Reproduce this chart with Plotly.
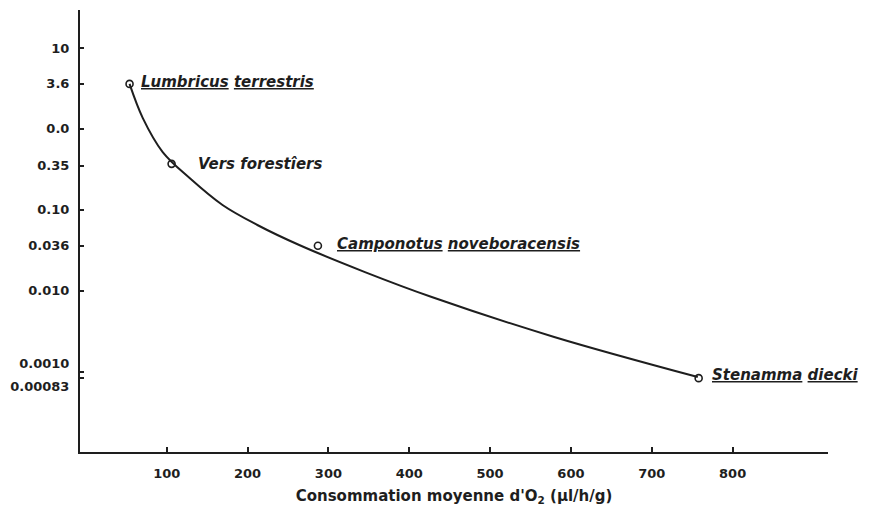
import math
import plotly.graph_objects as go

# Species: mean O2 consumption (µl/h/g) vs. value on the log axis
species = ["<u>Lumbricus</u> <u>terrestris</u>", "Vers forestîers",
           "<u>Camponotus</u> <u>noveboracensis</u>", "<u>Stenamma</u> <u>diecki</u>"]
species_x = [54, 106, 287, 758]
species_y = [3.6, 0.37, 0.036, 0.00083]
label_shift = [9, 24, 17, 11]
label_dy = [2, 0, 2, 3]

# Fitted curve through the species
curve_x = [54, 70.4, 95.0, 128.3, 169.0, 212.1, 263.9, 345.2, 427.8, 579.3, 756.9]
curve_y = [3.6, 1.36, 0.518, 0.247, 0.1147, 0.0649, 0.0367, 0.0170, 0.00836,
           0.00268, 0.000857]

# Axis ticks
x_ticks = [100, 200, 300, 400, 500, 600, 700, 800]
y_tickvals = [10, 3.6, 1.0, 0.35, 0.10, 0.036, 0.010, 0.0010, 0.00083]
y_ticktext = ["10", "3.6", "0.0", "0.35", "0.10", "0.036", "0.010",
              "0.0010<br> ", " <br>0.00083"]

INK = "#1e1e1e"
FONT = "DejaVu Sans"

fig = go.Figure()
fig.add_trace(go.Scatter(x=curve_x, y=curve_y, mode="lines",
                         line=dict(color=INK, width=2, shape="spline", smoothing=1.0),
                         hoverinfo="skip", showlegend=False))
fig.add_trace(go.Scatter(x=species_x, y=species_y, mode="markers",
                         marker=dict(symbol="circle-open", size=7, color=INK,
                                     line=dict(width=1.6, color=INK)),
                         showlegend=False))

# Species names; annotation y on a log axis is given in log10 units
for name, x, y, dx, dy in zip(species, species_x, species_y, label_shift, label_dy):
    fig.add_annotation(x=x, y=math.log10(y), xref="x", yref="y",
                       text=f"<b><i>{name}</i></b>",
                       showarrow=False, xanchor="left", yanchor="middle",
                       xshift=dx, yshift=dy,
                       font=dict(family=FONT, size=15, color=INK))

fig.update_xaxes(range=[-7.3, 918], tickvals=x_ticks, ticks="inside", ticklen=5,
                 tickwidth=1.5, tickcolor=INK, showline=True, linewidth=2,
                 linecolor=INK, showgrid=False, zeroline=False,
                 tickfont=dict(family=FONT, size=13, color=INK, weight="bold"),
                 ticklabelstandoff=8,
                 title=dict(text="<b>Consommation moyenne d'O<sub>2</sub> (µl/h/g)</b>",
                            font=dict(family=FONT, size=15, color=INK), standoff=11))
fig.update_yaxes(type="log", range=[-3.994, 1.47], tickvals=y_tickvals,
                 ticktext=y_ticktext, ticks="inside", ticklen=4, tickwidth=1.5,
                 tickcolor=INK, showline=True, linewidth=2, linecolor=INK,
                 showgrid=False, zeroline=False, ticklabelstandoff=6,
                 tickfont=dict(family=FONT, size=13, color=INK, weight="bold"))

fig.update_layout(width=874, height=513, margin=dict(l=77, r=46, t=10, b=61),
                  plot_bgcolor="white", paper_bgcolor="white")

fig.write_html("out.html")
